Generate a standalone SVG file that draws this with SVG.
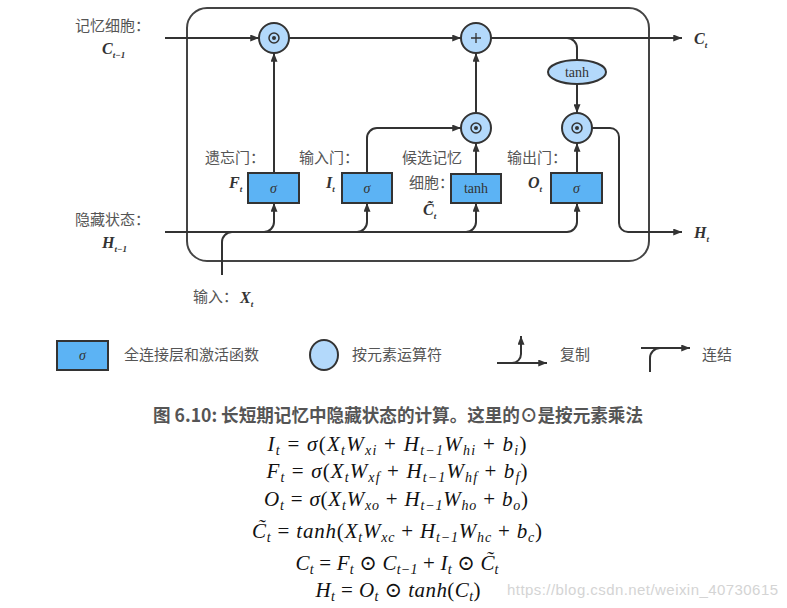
<svg xmlns="http://www.w3.org/2000/svg" width="787" height="608" viewBox="0 0 787 608">
  <defs>
    <marker id="arr" viewBox="0 0 10 8" refX="10" refY="4" markerWidth="9" markerHeight="7" markerUnits="userSpaceOnUse" orient="auto">
      <path d="M0,0 L10,4 L0,8 z" fill="#333"/>
    </marker>
    <style>
      .ln { fill: none; stroke: #333; stroke-width: 2; }
      .ar { marker-end: url(#arr); }
      .box { fill: #5cb3f4; stroke: #333; stroke-width: 2; }
      .op { fill: #b3d9fb; stroke: #333; stroke-width: 2; }
      .dot { fill: none; stroke: #333; stroke-width: 1.5; }
      .cjk { font-family: "Noto Sans CJK SC", "Noto Sans", sans-serif; font-size: 15px; fill: #555; }
      .mb { font-family: "Liberation Serif", "DejaVu Serif", serif; font-style: italic; font-weight: bold; font-size: 16px; fill: #333; }
      .ms { font-size: 9px; }
      .fn { font-family: "Liberation Serif", "DejaVu Serif", serif; font-size: 14px; fill: #333; }
      .eq { font-family: "Liberation Serif", "DejaVu Serif", serif; font-size: 21px; fill: #111; }
      .v { font-style: italic; }
      .s { font-style: italic; font-size: 14px; }
    </style>
  </defs>

  <!-- cell boundary -->
  <rect id="cell" x="187" y="8" width="462" height="253" rx="20" fill="none" stroke="#444" stroke-width="2"/>

  <!-- connectors -->
  <g id="connectors">
    <path class="ln ar" d="M165,38 H259"/>
    <path class="ln ar" d="M289,38 H461"/>
    <path class="ln ar" d="M491,38 H682"/>
    <path class="ln" d="M565,38 H567 A10,10 0 0 1 577,48 V60"/>
    <path class="ln ar" d="M577,84 V113"/>
    <path class="ln ar" d="M274,173 V53"/>
    <path class="ln ar" d="M367,173 V138 A10,10 0 0 1 377,128 H461"/>
    <path class="ln ar" d="M476,174 V143"/>
    <path class="ln ar" d="M476,113 V53"/>
    <path class="ln ar" d="M577,173 V143"/>
    <path class="ln ar" d="M592,128 H610 A9,9 0 0 1 619,137 V223 A9,9 0 0 0 628,232 H682"/>
    <path class="ln ar" d="M165,232 H567 A10,10 0 0 0 577,222 V203"/>
    <path class="ln ar" d="M264,232 A10,10 0 0 0 274,222 V203"/>
    <path class="ln ar" d="M357,232 A10,10 0 0 0 367,222 V203"/>
    <path class="ln ar" d="M466,232 A10,10 0 0 0 476,222 V203"/>
    <path class="ln" d="M222,275 V242 A10,10 0 0 1 232,232 H236"/>
  </g>

  <!-- element-wise operators -->
  <g id="mul_forget">
    <circle class="op" cx="274" cy="38" r="15"/>
    <circle class="dot" cx="274" cy="38" r="5"/><circle cx="274" cy="38" r="2" fill="#333"/>
  </g>
  <g id="add_cell">
    <circle class="op" cx="476" cy="38" r="15"/>
    <path d="M471,38 H481 M476,33 V43" stroke="#333" stroke-width="1.3"/>
  </g>
  <g id="mul_input">
    <circle class="op" cx="476" cy="128" r="15"/>
    <circle class="dot" cx="476" cy="128" r="5"/><circle cx="476" cy="128" r="2" fill="#333"/>
  </g>
  <g id="mul_output">
    <circle class="op" cx="577" cy="128" r="15"/>
    <circle class="dot" cx="577" cy="128" r="5"/><circle cx="577" cy="128" r="2" fill="#333"/>
  </g>
  <g id="tanh_cell">
    <ellipse class="op" cx="577" cy="72" rx="29" ry="12"/>
    <text class="fn" x="577" y="77" text-anchor="middle">tanh</text>
  </g>

  <!-- gate layers -->
  <g id="gate_forget">
    <rect class="box" x="248" y="173" width="51" height="30"/>
    <text class="fn v" x="273.5" y="193" text-anchor="middle">σ</text>
  </g>
  <g id="gate_input">
    <rect class="box" x="342" y="173" width="50" height="30"/>
    <text class="fn v" x="367" y="193" text-anchor="middle">σ</text>
  </g>
  <g id="gate_candidate">
    <rect class="box" x="451" y="174" width="50" height="29"/>
    <text class="fn" x="476" y="193" text-anchor="middle">tanh</text>
  </g>
  <g id="gate_output">
    <rect class="box" x="551" y="173" width="51" height="30"/>
    <text class="fn v" x="576.5" y="193" text-anchor="middle">σ</text>
  </g>

  <!-- labels -->
  <g id="labels">
    <text class="cjk" x="75" y="31">记忆细胞：</text>
    <text class="mb" x="102" y="54">C<tspan class="ms" dy="4">t−1</tspan></text>
    <text class="cjk" x="75" y="225">隐藏状态：</text>
    <text class="mb" x="102" y="248">H<tspan class="ms" dy="4">t−1</tspan></text>
    <text class="cjk" x="205" y="163">遗忘门：</text>
    <text class="mb" x="229" y="188">F<tspan class="ms" dy="4">t</tspan></text>
    <text class="cjk" x="299" y="163">输入门：</text>
    <text class="mb" x="326" y="188">I<tspan class="ms" dy="4">t</tspan></text>
    <text class="cjk" x="402" y="163">候选记忆</text>
    <text class="cjk" x="409" y="188">细胞：</text>
    <text class="mb" x="423" y="215">C̃<tspan class="ms" dy="4">t</tspan></text>
    <text class="cjk" x="507" y="163">输出门：</text>
    <text class="mb" x="528" y="188">O<tspan class="ms" dy="4">t</tspan></text>
    <text class="cjk" x="193" y="302">输入：</text>
    <text class="mb" x="240" y="303">X<tspan class="ms" dy="4">t</tspan></text>
    <text class="mb" x="694" y="44">C<tspan class="ms" dy="4">t</tspan></text>
    <text class="mb" x="694" y="238">H<tspan class="ms" dy="4">t</tspan></text>
  </g>

  <!-- legend -->
  <g id="legend_layer">
    <rect class="box" x="57" y="341" width="51" height="29"/>
    <text class="fn v" x="82.5" y="360" text-anchor="middle" font-size="12">σ</text>
    <text class="cjk" x="124" y="360">全连接层和激活函数</text>
  </g>
  <g id="legend_op">
    <ellipse class="op" cx="324" cy="355" rx="14" ry="15"/>
    <text class="cjk" x="352" y="360">按元素运算符</text>
  </g>
  <g id="legend_copy">
    <path class="ln ar" d="M497,363 H547"/>
    <path class="ln ar" d="M512,363 A9,9 0 0 0 521,354 V336"/>
    <text class="cjk" x="560" y="360">复制</text>
  </g>
  <g id="legend_concat">
    <path class="ln ar" d="M641,348 H690"/>
    <path class="ln" d="M650,372 V358 A10,10 0 0 1 660,348"/>
    <text class="cjk" x="702" y="360">连结</text>
  </g>

  <!-- caption and equations -->
  <g id="caption">
    <text x="153" y="422" textLength="490" lengthAdjust="spacingAndGlyphs" font-family="Noto Sans CJK SC, sans-serif" font-weight="bold" font-size="18" fill="#555">图 6.10: 长短期记忆中隐藏状态的计算。这里的⊙是按元素乘法</text>
  </g>
  <g id="equations" class="eq">
    <text x="397" y="451" text-anchor="middle" textLength="259"><tspan class="v">I</tspan><tspan class="s" baseline-shift="-4">t</tspan> = <tspan class="v">σ</tspan>(<tspan class="v">X</tspan><tspan class="s" baseline-shift="-4">t</tspan><tspan class="v">W</tspan><tspan class="s" baseline-shift="-4">xi</tspan> + <tspan class="v">H</tspan><tspan class="s" baseline-shift="-4">t−1</tspan><tspan class="v">W</tspan><tspan class="s" baseline-shift="-4">hi</tspan> + <tspan class="v">b</tspan><tspan class="s" baseline-shift="-4">i</tspan>)</text>
    <text x="397" y="478" text-anchor="middle" textLength="261"><tspan class="v">F</tspan><tspan class="s" baseline-shift="-4">t</tspan> = <tspan class="v">σ</tspan>(<tspan class="v">X</tspan><tspan class="s" baseline-shift="-4">t</tspan><tspan class="v">W</tspan><tspan class="s" baseline-shift="-4">xf</tspan> + <tspan class="v">H</tspan><tspan class="s" baseline-shift="-4">t−1</tspan><tspan class="v">W</tspan><tspan class="s" baseline-shift="-4">hf</tspan> + <tspan class="v">b</tspan><tspan class="s" baseline-shift="-4">f</tspan>)</text>
    <text x="396" y="506" text-anchor="middle" textLength="264"><tspan class="v">O</tspan><tspan class="s" baseline-shift="-4">t</tspan> = <tspan class="v">σ</tspan>(<tspan class="v">X</tspan><tspan class="s" baseline-shift="-4">t</tspan><tspan class="v">W</tspan><tspan class="s" baseline-shift="-4">xo</tspan> + <tspan class="v">H</tspan><tspan class="s" baseline-shift="-4">t−1</tspan><tspan class="v">W</tspan><tspan class="s" baseline-shift="-4">ho</tspan> + <tspan class="v">b</tspan><tspan class="s" baseline-shift="-4">o</tspan>)</text>
    <text x="397" y="538" text-anchor="middle" textLength="290"><tspan class="v">C̃</tspan><tspan class="s" baseline-shift="-4">t</tspan> = <tspan class="v">tanh</tspan>(<tspan class="v">X</tspan><tspan class="s" baseline-shift="-4">t</tspan><tspan class="v">W</tspan><tspan class="s" baseline-shift="-4">xc</tspan> + <tspan class="v">H</tspan><tspan class="s" baseline-shift="-4">t−1</tspan><tspan class="v">W</tspan><tspan class="s" baseline-shift="-4">hc</tspan> + <tspan class="v">b</tspan><tspan class="s" baseline-shift="-4">c</tspan>)</text>
    <text x="397" y="570" text-anchor="middle" textLength="203"><tspan class="v">C</tspan><tspan class="s" baseline-shift="-4">t</tspan> = <tspan class="v">F</tspan><tspan class="s" baseline-shift="-4">t</tspan> ⊙ <tspan class="v">C</tspan><tspan class="s" baseline-shift="-4">t−1</tspan> + <tspan class="v">I</tspan><tspan class="s" baseline-shift="-4">t</tspan> ⊙ <tspan class="v">C̃</tspan><tspan class="s" baseline-shift="-4">t</tspan></text>
    <text x="398" y="597" text-anchor="middle" textLength="165"><tspan class="v">H</tspan><tspan class="s" baseline-shift="-4">t</tspan> = <tspan class="v">O</tspan><tspan class="s" baseline-shift="-4">t</tspan> ⊙ <tspan class="v">tanh</tspan>(<tspan class="v">C</tspan><tspan class="s" baseline-shift="-4">t</tspan>)</text>
  </g>

  <text id="watermark" x="507" y="595" textLength="271" font-family="Liberation Sans, Arial, sans-serif" font-size="15" fill="#d4d4d4">https://blog.csdn.net/weixin_40730615</text>
</svg>
